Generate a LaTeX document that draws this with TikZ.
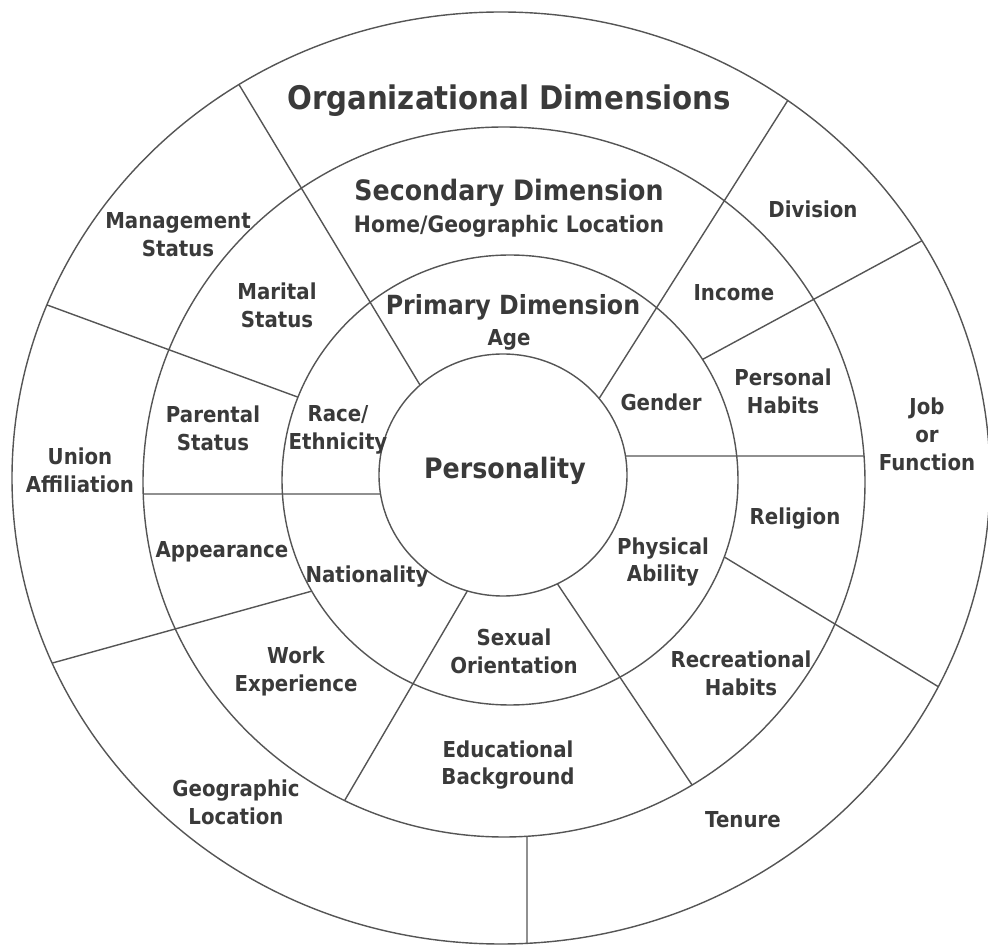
\documentclass[tikz,border=0pt]{standalone}
\usepackage{fontspec}
\usetikzlibrary{calc}
\newfontfamily\wheelfont{DejaVu Sans}[FakeStretch=0.9]
\definecolor{ink}{HTML}{3A3A3A}
\definecolor{rim}{HTML}{555555}

\begin{document}
\begin{tikzpicture}[x=0.02cm, y=-0.02cm, every node/.style={font=\wheelfont\bfseries\fontsize{12.5}{15.9}\selectfont, text=ink, align=center, inner sep=0pt}, head/.style={font=\wheelfont\bfseries\fontsize{#1}{#1}\selectfont}, ring/.style={draw=rim,line width=0.8pt}, spoke/.style={draw=rim,line width=0.8pt}]
\useasboundingbox (0,0) rectangle (988,945);
\coordinate (c0) at (503,475); \coordinate (c1) at (510,480); \coordinate (c2) at (504,482); \coordinate (c3) at (501,478);
\draw[ring] (c3) ellipse [x radius=489, y radius=466];
\draw[ring] (c2) ellipse [x radius=361, y radius=355];
\draw[ring] (c1) ellipse [x radius=228, y radius=225];
\draw[ring] (c0) ellipse [x radius=124, y radius=121];
\coordinate (o1) at ($(c3)+(-122.4:489 and 466)$); \coordinate (i1) at ($(c0)+(-132:124 and 121)$);
\coordinate (o2) at ($(c3)+(-158.2:489 and 466)$); \coordinate (i2) at ($(c1)+(-158.4:228 and 225)$);
\coordinate (o3) at ($(c2)+(178.06:361 and 355)$); \coordinate (i3) at ($(c0)+(170.97:124 and 121)$);
\coordinate (o4) at ($(c3)+(156.6:489 and 466)$); \coordinate (i4) at ($(c1)+(150.4:228 and 225)$);
\coordinate (o5) at ($(c2)+(116.2:361 and 355)$); \coordinate (i5) at ($(c0)+(106.7:124 and 121)$);
\coordinate (o6) at ($(c3)+(86.95:489 and 466)$); \coordinate (i6) at ($(c2)+(86.35:361 and 355)$);
\coordinate (o7) at ($(c2)+(58.6:361 and 355)$); \coordinate (i7) at ($(c0)+(64:124 and 121)$);
\coordinate (o8) at ($(c3)+(26.6:489 and 466)$); \coordinate (i8) at ($(c1)+(20:228 and 225)$);
\coordinate (o9) at ($(c2)+(-4.2:361 and 355)$); \coordinate (i9) at ($(c0)+(-9.03:124 and 121)$);
\coordinate (o10) at ($(c3)+(-30.6:489 and 466)$); \coordinate (i10) at ($(c1)+(-32.4:228 and 225)$);
\coordinate (o11) at ($(c3)+(-54.1:489 and 466)$); \coordinate (i11) at ($(c0)+(-39.2:124 and 121)$);
\foreach \k in {1,...,11} \draw[spoke] (o\k)--(i\k);
\node[head=18.5] (org) at (509,101) {Organizational Dimensions};
\node[head=16] (sec) at (509,193) {Secondary Dimension};
\node[head=12.9] (home) at (509,226) {Home/Geographic Location};
\node[head=15] (prim) at (513,307) {Primary Dimension};
\node (age) at (509,340) {Age};
\node[head=16] (pers) at (505,471) {Personality};
\node (mgmt) at (178,235) {Management\\Status};
\node (marital) at (277,305) {Marital\\Status};
\node (parental) at (213,428) {Parental\\Status};
\node (race) at (338,430) {Race/\\Ethnicity};
\node (union) at (80,470) {Union\\Affiliation};
\node (appear) at (222,552) {Appearance};
\node (nation) at (367,577) {Nationality};
\node (work) at (296,671) {Work\\Experience};
\node (geo) at (236,802) {Geographic\\Location};
\node (edu) at (508,765) {Educational\\Background};
\node (sexual) at (514,651) {Sexual\\Orientation};
\node (physical) at (663,562) {Physical\\Ability};
\node (recre) at (741,673) {Recreational\\Habits};
\node (tenure) at (743,820) {Tenure};
\node (religion) at (795,519) {Religion};
\node (job) at (927,434) {Job\\or\\Function};
\node (habits) at (783,391) {Personal\\Habits};
\node (gender) at (661,402) {Gender};
\node (income) at (734,293) {Income};
\node (division) at (813,209) {Division};
\end{tikzpicture}
\end{document}
